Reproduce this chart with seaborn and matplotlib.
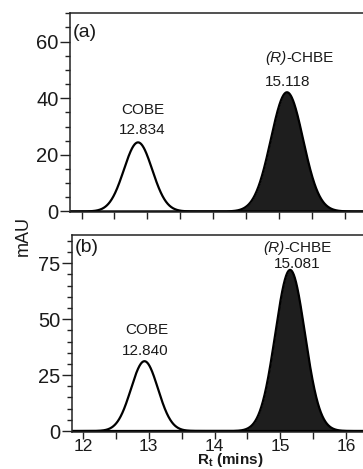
import numpy as np
import pandas as pd
import matplotlib
matplotlib.use("Agg")
import matplotlib.pyplot as plt
from matplotlib.ticker import MultipleLocator
import matplotlib.transforms as mtrans
import seaborn as sns

# ---- data ----
panel_labels = ["(a)", "(b)"]
cobe_rt_text = ["12.834", "12.840"]
chbe_rt_text = ["15.118", "15.081"]
cobe_apex = [12.86, 12.935]      # drawn apex positions (min)
chbe_apex = [15.125, 15.15]
cobe_height = [24.4, 31.2]       # mAU
chbe_height = [42.1, 72.0]
cobe_sigma = [0.215, 0.205]      # peak width (min)
chbe_sigma = [0.245, 0.225]
y_major = [20, 25]
y_limits = [(-0.3, 70.0), (-0.3, 87.6)]
x_ticks = [12, 13, 14, 15, 16]

sns.set_theme(style="ticks")
plt.rcParams["font.family"] = ["Liberation Sans", "DejaVu Sans"]
plt.rcParams["mathtext.fontset"] = "custom"
plt.rcParams["mathtext.rm"] = "Liberation Sans"
plt.rcParams["mathtext.it"] = "Liberation Sans:italic"
plt.rcParams["mathtext.bf"] = "Liberation Sans:bold"
plt.rcParams["text.color"] = "#1a1a1a"
plt.rcParams["xtick.labelcolor"] = "#1a1a1a"
plt.rcParams["ytick.labelcolor"] = "#1a1a1a"

W, H = 363, 469
fig = plt.figure(figsize=(W / 100, H / 100), dpi=100)

x_lo, x_hi = 11.825, 16.35
px_per_min = 65.75
width_px = (x_hi - x_lo) * px_per_min

# axes boxes in pixels: (left, top, bottom)
boxes = [(70, 13.3, 212.3), (71.5, 235, 431.7)]

x = np.linspace(x_lo, x_hi, 1200)

def peak(apex, h, s):
    return h * np.exp(-0.5 * ((x - apex) / s) ** 2)

# label positions (data coords)
cobe_name_pos = [(12.93, 36.0), (12.97, 45.3)]
cobe_rt_pos = [(12.93, 28.6), (12.95, 35.6)]
chbe_name_pos = [(15.32, 54.3), (15.27, 82.0)]
chbe_rt_pos = [(15.13, 45.9), (15.26, 74.6)]

axes = []
for i in range(2):
    l, t, b = boxes[i]
    ax = fig.add_axes([l / W, 1 - b / H, width_px / W, (b - t) / H])
    axes.append(ax)
    y_cobe = peak(cobe_apex[i], cobe_height[i], cobe_sigma[i])
    y_chbe = peak(chbe_apex[i], chbe_height[i], chbe_sigma[i])
    df = pd.DataFrame({"t": np.concatenate([x, x]),
                       "mAU": np.concatenate([y_cobe, y_chbe]),
                       "peak": ["COBE"] * len(x) + ["CHBE"] * len(x)})
    sns.lineplot(data=df, x="t", y="mAU", hue="peak",
                 palette={"COBE": "black", "CHBE": "black"},
                 linewidth=1.6, legend=False, ax=ax, estimator=None)
    ax.fill_between(x, 0, y_chbe, color="#1e1e1e", lw=0)
    ax.set_xlim(x_lo, x_hi)
    ax.set_ylim(*y_limits[i])
    ax.yaxis.set_major_locator(MultipleLocator(y_major[i]))
    ax.yaxis.set_minor_locator(MultipleLocator(5))
    ax.xaxis.set_minor_locator(MultipleLocator(0.5))
    ax.set_xticks(x_ticks)
    ax.tick_params(axis="y", which="major", length=7.2, width=1.0, pad=1,
                   labelsize=14.5, direction="out", color="#222222")
    ax.tick_params(axis="y", which="minor", length=3.6, width=1.0,
                   direction="out", color="#222222")
    ax.tick_params(axis="x", which="both", length=4.8, width=1.0, pad=0.3,
                   labelsize=12.5, direction="out", color="#222222")
    for sp in ax.spines.values():
        sp.set_linewidth(1.1)
        sp.set_color("#222222")
    ax.set_xlabel("")
    ax.set_ylabel("")
    ax.text(0.01, 0.905 if i == 0 else 0.935, panel_labels[i],
            transform=ax.transAxes, fontsize=14, ha="left", va="center")
    ax.text(*cobe_name_pos[i], "COBE", fontsize=11, ha="center", va="center")
    ax.text(*cobe_rt_pos[i], cobe_rt_text[i], fontsize=11, ha="center", va="center")
    # "(R)" italic, "-CHBE" upright, joined around the label centre
    split = mtrans.offset_copy(ax.transData, fig=fig, x=-9.5, y=0, units="points")
    ax.text(*chbe_name_pos[i], "(R)", fontsize=11, style="italic",
            ha="right", va="center", transform=split)
    ax.text(*chbe_name_pos[i], "-CHBE", fontsize=11,
            ha="left", va="center", transform=split)
    ax.text(*chbe_rt_pos[i], chbe_rt_text[i], fontsize=11, ha="center", va="center")

axes[0].tick_params(axis="x", labelbottom=False)

fig.text(23 / W, 1 - 236 / H, "mAU", rotation=90, fontsize=13,
         ha="center", va="center")
fig.text(230 / W, 1 - 460 / H, r"$\mathbf{R_t}$ $\mathbf{(mins)}$",
         fontsize=11, ha="center", va="center")

fig.savefig("out.png", dpi=100)
